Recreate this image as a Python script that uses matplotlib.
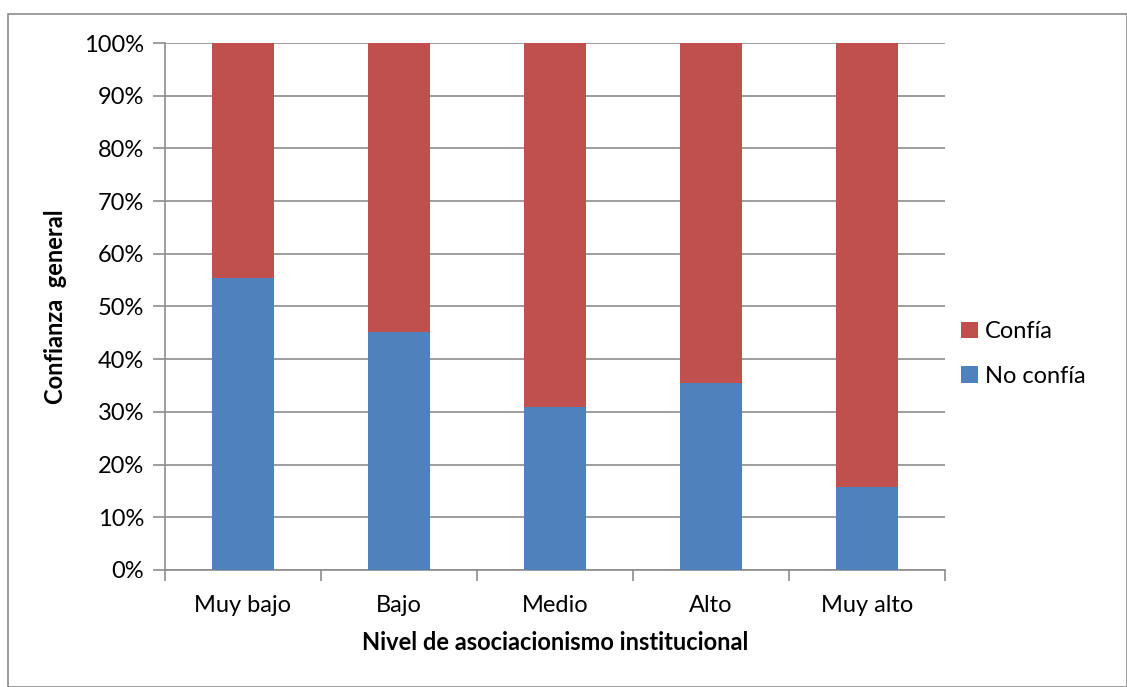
import matplotlib
matplotlib.use("Agg")
import matplotlib.pyplot as plt
from matplotlib.patches import Rectangle
from matplotlib.ticker import FuncFormatter, MultipleLocator

categories = ["Muy bajo", "Bajo", "Medio", "Alto", "Muy alto"]
no_confia = [0.555, 0.451, 0.310, 0.354, 0.158]
confia = [1 - v for v in no_confia]

plt.rcParams['font.family'] = ['Lato', 'DejaVu Sans']

fig = plt.figure(figsize=(11.27, 6.87), dpi=100)
W, H = 1127, 687
ax = fig.add_axes([165 / W, 1 - 570 / H, (945 - 165) / W, (570 - 43) / H])

blue = "#4F81BD"
red = "#C0504D"
x = list(range(len(categories)))
ax.bar(x, no_confia, width=0.4, color=blue, label="No confía", zorder=3)
ax.bar(x, confia, width=0.4, bottom=no_confia, color=red, label="Confía", zorder=3)

ax.set_xlim(-0.5, len(categories) - 0.5)
ax.set_ylim(0, 1)
ax.yaxis.set_major_locator(MultipleLocator(0.1))
ax.yaxis.set_major_formatter(FuncFormatter(lambda v, p: f"{v*100:.0f}%"))
ax.grid(axis='y', color="#8c8c8c", linewidth=1.2, zorder=0)
for s in ["top", "right"]:
    ax.spines[s].set_visible(False)
ax.spines["left"].set_color("#8c8c8c")
ax.spines["bottom"].set_color("#8c8c8c")
ax.spines["left"].set_linewidth(1.2)
ax.spines["bottom"].set_linewidth(1.2)

ax.set_xticks(x)
ax.set_xticklabels(categories)
ax.set_xticks([i - 0.5 for i in range(len(categories) + 1)], minor=True)
ax.tick_params(axis='x', which='major', length=0, pad=18, labelsize=17)
ax.tick_params(axis='x', which='minor', length=8, color="#8c8c8c", width=1.2)
ax.tick_params(axis='y', length=9, color="#8c8c8c", width=1.2, pad=6, labelsize=17)

ax.set_xlabel("Nivel de asociacionismo institucional", fontsize=17, fontweight='bold', labelpad=11)
ax.set_ylabel("Confianza  general", fontsize=17, fontweight='bold', labelpad=12)

handles, labels = ax.get_legend_handles_labels()
leg = fig.legend(handles[::-1], labels[::-1], loc='center left',
                 bbox_to_anchor=(940 / W, 1 - 354 / H), frameon=False,
                 fontsize=17, handlelength=0.7, handleheight=0.7,
                 handletextpad=0.3, labelspacing=1.0)

fig.patches.append(Rectangle((8 / W, 0), (W - 8) / W, 1 - 14 / H,
                             transform=fig.transFigure, fill=False,
                             edgecolor="#8c8c8c", linewidth=1.2))

fig.savefig("out.png", dpi=100)
